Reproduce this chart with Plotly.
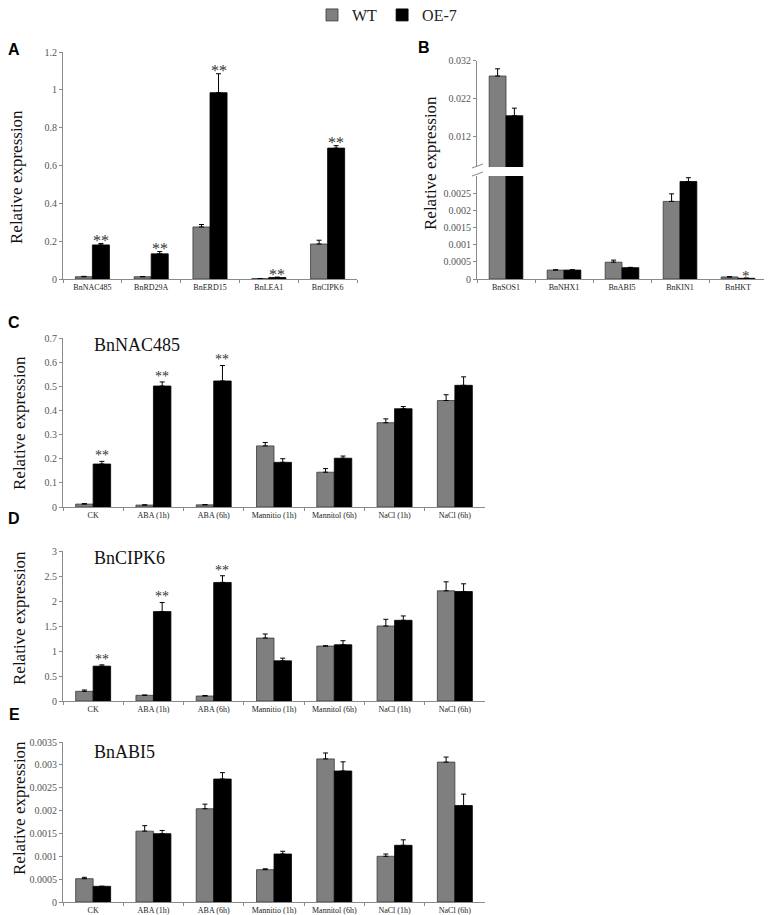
import plotly.graph_objects as go

# ── Data ──────────────────────────────────────────────────────────────────────
genes_a = ["BnNAC485", "BnRD29A", "BnERD15", "BnLEA1", "BnCIPK6"]
wt_a = [0.012, 0.012, 0.275, 0.002, 0.185]
wt_a_err = [0.002, 0.001, 0.013, 0.0005, 0.020]
oe_a = [0.180, 0.133, 0.985, 0.008, 0.692]
oe_a_err = [0.008, 0.012, 0.100, 0.002, 0.013]
sig_a = ["**", "**", "**", "**", "**"]

genes_b = ["BnSOS1", "BnNHX1", "BnABI5", "BnKIN1", "BnHKT"]
wt_b = [0.0279, 0.00026, 0.00049, 0.00226, 0.00006]
wt_b_err = [0.0019, 0.00001, 0.00006, 0.00022, 0.000005]
oe_b = [0.0174, 0.00026, 0.00033, 0.00284, 0.00002]
oe_b_err = [0.0020, 0.00001, 0.00001, 0.00011, 0.000005]
sig_b = ["", "", "", "", "*"]

treatments = ["CK", "ABA (1h)", "ABA (6h)", "Mannitio (1h)", "Mannitol (6h)",
              "NaCl (1h)", "NaCl (6h)"]

wt_c = [0.012, 0.008, 0.009, 0.253, 0.144, 0.349, 0.441]
wt_c_err = [0.002, 0.001, 0.001, 0.014, 0.015, 0.016, 0.024]
oe_c = [0.178, 0.501, 0.522, 0.185, 0.202, 0.407, 0.504]
oe_c_err = [0.011, 0.017, 0.064, 0.015, 0.009, 0.009, 0.035]
sig_c = ["**", "**", "**", "", "", "", ""]

wt_d = [0.194, 0.114, 0.100, 1.259, 1.098, 1.500, 2.204]
wt_d_err = [0.026, 0.005, 0.010, 0.081, 0.007, 0.134, 0.180]
oe_d = [0.697, 1.788, 2.371, 0.804, 1.125, 1.614, 2.190]
oe_d_err = [0.026, 0.181, 0.134, 0.053, 0.081, 0.087, 0.154]
sig_d = ["**", "**", "**", "", "", "", ""]

wt_e = [0.00051, 0.00155, 0.00204, 0.000707, 0.00313, 0.00100, 0.00306]
wt_e_err = [0.00003, 0.00012, 0.00010, 0.00002, 0.00013, 0.00005, 0.00011]
oe_e = [0.000343, 0.001495, 0.00269, 0.00105, 0.002866, 0.00124, 0.00211]
oe_e_err = [0.0, 0.00007, 0.00014, 0.00006, 0.00020, 0.00012, 0.00025]
sig_e = ["", "", "", "", "", "", ""]

ticks_a = [0, 0.2, 0.4, 0.6, 0.8, 1, 1.2]
ticks_b_low = [0, 0.0005, 0.001, 0.0015, 0.002, 0.0025]
ticks_b_up = [0.012, 0.022, 0.032]
ticks_c = [0, 0.1, 0.2, 0.3, 0.4, 0.5, 0.6, 0.7]
ticks_d = [0, 0.5, 1, 1.5, 2, 2.5, 3]
ticks_e = [0, 0.0005, 0.001, 0.0015, 0.002, 0.0025, 0.003, 0.0035]

# ── Style ─────────────────────────────────────────────────────────────────────
# page has an 8px body margin, so the figure is 8px smaller than the window
OFF = 8
W, H = 772 - OFF, 915 - OFF
SERIF = "Liberation Serif, Times New Roman, serif"
SANS = "Liberation Sans, Arial, sans-serif"
C_WT = "#7f7f7f"
C_OE = "#000000"
AXIS = "#8a8a8a"
BARGAP = 0.42


def px_x(p):
    return (p - OFF) / W


def px_y(p):
    return 1 - (p - OFF) / H


def fmt(v):
    return f"{v:g}" if v >= 0.001 or v == 0 else f"{v:.4f}".rstrip("0")


fig = go.Figure()


def add_bars(cats, wt, wt_err, oe, oe_err, xa, ya, legend=False):
    for name, vals, errs, col, line in (("WT", wt, wt_err, C_WT, "#3a3a3a"),
                                         ("OE-7", oe, oe_err, C_OE, "#000")):
        fig.add_trace(go.Bar(
            x=cats, y=vals, name=name, xaxis=xa, yaxis=ya,
            marker=dict(color=col, line=dict(color=line, width=0.8)),
            error_y=dict(type="data", symmetric=False, array=errs,
                         arrayminus=[0] * len(errs), color="#000",
                         thickness=1, width=2.5),
            showlegend=legend, legendgroup=name,
        ))


def add_stars(cats, oe, oe_err, sig, xa, ya, size=14, gap=7):
    # star glyphs sit ~0.85em above the bottom of the text box
    off = (1 - BARGAP) / 4
    for i, s in enumerate(sig):
        if s:
            fig.add_annotation(x=i + off, y=oe[i] + oe_err[i], xref=xa, yref=ya,
                               text=s, showarrow=False, yanchor="bottom",
                               yshift=gap - 0.85 * size,
                               font=dict(family=SERIF, size=size, color="#333"))


def y_axis(dom, rng, ticks, anchor):
    return dict(domain=dom, range=rng, anchor=anchor, tickvals=ticks,
                ticktext=[fmt(t) for t in ticks], showgrid=False,
                zeroline=False, showline=True, linecolor=AXIS, linewidth=1,
                ticks="outside", ticklen=3, tickcolor=AXIS, automargin=False,
                tickfont=dict(family=SERIF, size=10, color="#555"))


def x_axis(dom, anchor, show=True):
    return dict(domain=dom, anchor=anchor, showgrid=False, zeroline=False,
                showline=show, linecolor=AXIS, linewidth=1,
                ticks="outside" if show else "", tickson="boundaries",
                ticklen=3, tickcolor=AXIS, showticklabels=show,
                automargin=False,
                tickfont=dict(family=SERIF, size=8, color="#222"))


def label(text, xc, yc, font, angle=0, xanchor="center"):
    fig.add_annotation(x=px_x(xc), y=px_y(yc), xref="paper", yref="paper",
                       text=text, textangle=angle, showarrow=False,
                       xanchor=xanchor, yanchor="middle", font=font)


# Panel A
add_bars(genes_a, wt_a, wt_a_err, oe_a, oe_a_err, "x", "y", legend=True)
add_stars(genes_a, oe_a, oe_a_err, sig_a, "x", "y", size=16, gap=6)

# Panel B (broken axis: lower y2, upper y3)
add_bars(genes_b, wt_b, wt_b_err, oe_b, oe_b_err, "x2", "y2")
add_bars(genes_b, wt_b, wt_b_err, oe_b, oe_b_err, "x2", "y3")
add_stars(genes_b, oe_b, oe_b_err, sig_b, "x2", "y2", size=15, gap=5)

# Panels C, D, E
add_bars(treatments, wt_c, wt_c_err, oe_c, oe_c_err, "x3", "y4")
add_stars(treatments, oe_c, oe_c_err, sig_c, "x3", "y4", size=14, gap=8)
add_bars(treatments, wt_d, wt_d_err, oe_d, oe_d_err, "x4", "y5")
add_stars(treatments, oe_d, oe_d_err, sig_d, "x4", "y5", size=14, gap=8)
add_bars(treatments, wt_e, wt_e_err, oe_e, oe_e_err, "x5", "y6")
add_stars(treatments, oe_e, oe_e_err, sig_e, "x5", "y6", size=14, gap=8)

fig.update_layout(
    width=W, height=H, margin=dict(l=0, r=0, t=0, b=0, autoexpand=False),
    paper_bgcolor="white", plot_bgcolor="white",
    barmode="group", bargap=BARGAP, bargroupgap=0,
    font=dict(family=SERIF, color="#000"),
    legend=dict(orientation="h", x=px_x(387), xanchor="center",
                y=1.011, yanchor="top",
                font=dict(family=SERIF, size=16, color="#222"),
                itemwidth=30, traceorder="normal"),
    xaxis=x_axis([px_x(63), px_x(357)], "y"),
    yaxis=y_axis([px_y(279), px_y(52)], [0, 1.2], ticks_a, "x"),
    xaxis2=x_axis([px_x(477), px_x(767)], "y2"),
    yaxis2=y_axis([px_y(279), px_y(176)], [0, 0.003], ticks_b_low, "x2"),
    yaxis3=y_axis([px_y(167), px_y(60.5)], [0.00385, 0.032], ticks_b_up, "x2"),
    xaxis3=x_axis([px_x(63), px_x(485)], "y4"),
    yaxis4=y_axis([px_y(507), px_y(338)], [0, 0.7], ticks_c, "x3"),
    xaxis4=x_axis([px_x(63), px_x(485)], "y5"),
    yaxis5=y_axis([px_y(701), px_y(551)], [0, 3], ticks_d, "x4"),
    xaxis5=x_axis([px_x(63), px_x(485)], "y6"),
    yaxis6=y_axis([px_y(902), px_y(742)], [0, 0.0035], ticks_e, "x5"),
)

# axis titles, panel letters, gene titles
title_font = dict(family=SERIF, size=17, color="#111")
for xc, yc in ((17, 177), (430, 163), (19, 423), (19, 618), (19, 808)):
    label("Relative expression", xc, yc, title_font, angle=-90)

for lab, xc, yc in (("A", 14, 50), ("B", 424, 48), ("C", 14, 322),
                    ("D", 14, 518), ("E", 14, 714)):
    label(f"<b>{lab}</b>", xc, yc, dict(family=SANS, size=16, color="#000"))

for lab, yc in (("BnNAC485", 345), ("BnCIPK6", 558), ("BnABI5", 752)):
    label(lab, 92, yc, dict(family=SERIF, size=18, color="#111"),
          xanchor="left")

# axis break marks on panel B
for y0 in (164, 172):
    fig.add_shape(type="line", xref="paper", yref="paper",
                  x0=px_x(472), x1=px_x(483), y0=px_y(y0 + 4), y1=px_y(y0),
                  line=dict(color=AXIS, width=1))

fig.write_html("out.html")
